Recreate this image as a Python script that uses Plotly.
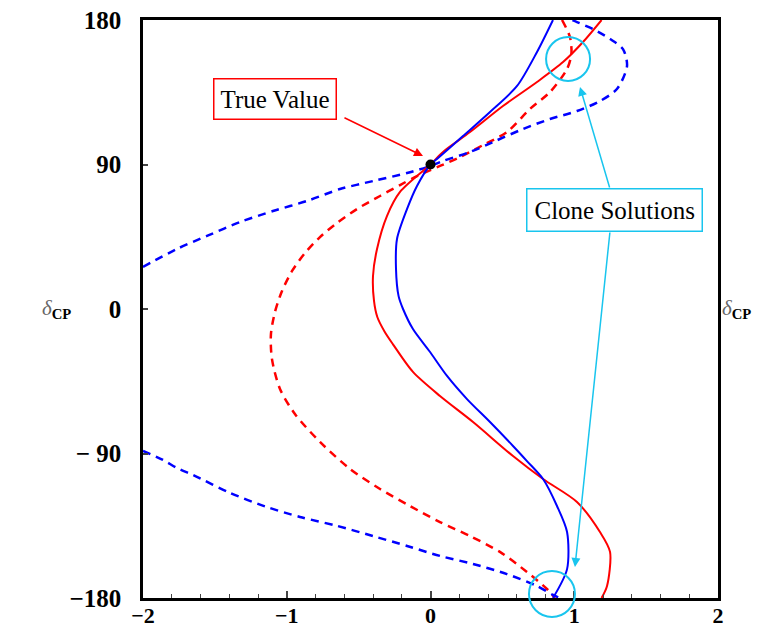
import plotly.graph_objects as go

# ---------------- data (x, delta_CP in degrees) ----------------
blue_solid_x = [0.852, 0.741, 0.602, 0.414, 0.226, 0.045, 0.0, -0.094, -0.163, -0.233, -0.240, -0.222,
                -0.191, -0.122, -0.003, 0.115, 0.254, 0.414, 0.574, 0.671, 0.783, 0.880, 0.950, 0.950, 0.852]
blue_solid_y = [180, 160.1, 138.9, 122.7, 107.7, 93.4, 90, 76.6, 62.3, 43.6, 25.0, 8.0,
                0, -12.5, -26.8, -41.7, -56.1, -70.4, -85.3, -94.7, -105.9, -122.7, -138.9, -162.0, -180]

red_solid_x = [1.19, 1.061, 0.922, 0.741, 0.504, 0.275, 0.087, 0.0, -0.212, -0.303, -0.372, -0.400,
               -0.393, -0.370, -0.320, -0.261, -0.122, 0.066, 0.296, 0.574, 0.783, 1.019, 1.179, 1.249,
               1.228, 1.19]
red_solid_y = [180, 166.3, 153.8, 141.4, 126.4, 110.2, 97.8, 90, 72.9, 57.9, 37.4, 20.6,
               5.0, -5.0, -14.0, -22.0, -39.2, -54.2, -70.4, -91.6, -105.9, -120.2, -138.9, -151.3,
               -172.5, -180]

red_dash_x = [0.915, 0.970, 0.980, 0.950, 0.831, 0.692, 0.532, 0.365, 0.205, 0.066, -0.094, -0.212, -0.351,
              -0.511, -0.650, -0.769, -0.873, -0.963, -1.033, -1.082, -1.110, -1.103, -1.047, -0.943,
              -0.769, -0.560, -0.351, -0.143, 0.066, 0.275, 0.483, 0.671, 0.810, 0.866]
red_dash_y = [180, 169.4, 158.8, 149.5, 135.1, 124.6, 110.2, 102.1, 94.6, 89.1, 82.8, 77.2, 70.4,
              62.3, 53.6, 44.8, 34.9, 23.7, 11.2, -1.9, -15.6, -31.1, -49.8, -65.4,
              -82.8, -99.6, -112.1, -122.7, -132.7, -141.4, -151.3, -163.8, -174.4, -180]

blue_dash_up_x = [-2.0, -1.764, -1.555, -1.325, -1.096, -0.859, -0.630, -0.400, -0.163, 0.0, 0.087, 0.275,
                  0.435, 0.643, 0.831, 1.019, 1.179, 1.297, 1.367, 1.339, 1.249, 1.130, 1.019, 0.984]
blue_dash_up_y = [26.2, 37.4, 45.5, 54.2, 61.0, 67.3, 74.7, 79.7, 84.7, 89.1, 92.2, 97.8,
                  104.0, 112.1, 118.3, 123.3, 129.5, 137.0, 151.3, 161.9, 168.2, 174.4, 178.7, 180]

blue_dash_lo_x = [-2.0, -1.861, -1.764, -1.652, -1.395, -1.150, -0.908, -0.650, -0.400, -0.163, 0.066,
                  0.296, 0.532, 0.741, 0.852, 0.900]
blue_dash_lo_y = [-88.4, -94.0, -99.0, -103.4, -114.5, -123.0, -129.5, -135.1, -141.4, -147.6, -153.8,
                  -158.8, -165.1, -172.5, -178.1, -180]

true_value = (0.0, 90.0)

x_tickvals = [-2, -1, 0, 1, 2]
x_ticktext = ["\u22122", "\u22121", "0", "1", "2"]
y_tickvals = [-180, -90, 0, 90, 180]
y_ticktext = ["\u2212180", "\u2212 90", "0", "90", "180"]

# clone circles: centre (x, y) and radii (rx, ry) in data units
clone_circles = [((0.957, 155.7), (0.153, 13.7)), ((0.845, -177.5), (0.160, 14.3))]

XR = [-2, 2]
YR = [-180, 180]

BLUE = "#0000FF"
RED = "#FF0000"
CYAN = "#19C5EE"
SERIF = "Liberation Serif"

fig = go.Figure()

fig.add_trace(go.Scatter(x=red_dash_x, y=red_dash_y, mode="lines",
                         line=dict(color=RED, width=2.5, dash="8px,6px", shape="spline", smoothing=0.8)))
fig.add_trace(go.Scatter(x=blue_dash_up_x, y=blue_dash_up_y, mode="lines",
                         line=dict(color=BLUE, width=2.5, dash="8px,6px", shape="spline", smoothing=0.8)))
fig.add_trace(go.Scatter(x=blue_dash_lo_x, y=blue_dash_lo_y, mode="lines",
                         line=dict(color=BLUE, width=2.5, dash="8px,6px", shape="spline", smoothing=0.8)))
fig.add_trace(go.Scatter(x=red_solid_x, y=red_solid_y, mode="lines",
                         line=dict(color=RED, width=2, shape="spline", smoothing=0.8)))
fig.add_trace(go.Scatter(x=blue_solid_x, y=blue_solid_y, mode="lines",
                         line=dict(color=BLUE, width=2, shape="spline", smoothing=0.8)))
fig.add_trace(go.Scatter(x=[true_value[0]], y=[true_value[1]], mode="markers",
                         marker=dict(color="black", size=10)))


def fx(v):
    return (v - XR[0]) / (XR[1] - XR[0])


def fy(v):
    return (v - YR[0]) / (YR[1] - YR[0])


for (cx, cy), (rx, ry) in clone_circles:
    fig.add_shape(type="circle", xref="x domain", yref="y domain",
                  x0=fx(cx - rx), x1=fx(cx + rx), y0=fy(cy - ry), y1=fy(cy + ry),
                  line=dict(color=CYAN, width=2))

ann = []
# True value box and arrow
ann.append(dict(x=-1.082, y=130.8, xref="x", yref="y", text="True Value", showarrow=False,
                font=dict(family=SERIF, size=25, color="black"), bordercolor=RED, borderwidth=1.5,
                borderpad=6, bgcolor="white"))
ann.append(dict(x=-0.052, y=95.3, ax=-0.609, ay=119.6, xref="x", yref="y", axref="x", ayref="y",
                text="", showarrow=True, arrowhead=2, arrowsize=1.2, arrowwidth=1.5, arrowcolor=RED))
# Clone solutions box and arrows
ann.append(dict(x=1.040, y=138.3, ax=1.249, ay=74.7, xref="x", yref="y", axref="x", ayref="y",
                text="", showarrow=True, arrowhead=2, arrowsize=1.2, arrowwidth=1.5, arrowcolor=CYAN))
ann.append(dict(x=1.005, y=-160.7, ax=1.249, ay=48.6, xref="x", yref="y", axref="x", ayref="y",
                text="", showarrow=True, arrowhead=2, arrowsize=1.2, arrowwidth=1.5, arrowcolor=CYAN))
ann.append(dict(x=1.283, y=61.7, xref="x", yref="y", text="Clone Solutions", showarrow=False,
                font=dict(family=SERIF, size=25, color="black"), bordercolor=CYAN, borderwidth=1.5,
                borderpad=7, bgcolor="white"))
# axis labels
for xp in (-0.179, 1.061):
    ann.append(dict(x=xp, y=0, xref="paper", yref="y", showarrow=False,
                    text="<span style='color:#666'><i>\u03b4</i></span><sub><b>CP</b></sub>",
                    font=dict(family=SERIF, size=21, color="black")))

fig.update_layout(
    width=784, height=627,
    margin=dict(l=143, r=66, t=20, b=29, autoexpand=False),
    paper_bgcolor="white", plot_bgcolor="white",
    showlegend=False,
    annotations=ann,
    xaxis=dict(range=XR, tickvals=x_tickvals, ticktext=x_ticktext, ticks="inside", ticklen=7,
               tickwidth=1.5, showgrid=False, zeroline=False, showline=True, mirror=True,
               linecolor="black", linewidth=2.5, automargin=False, ticklabelstandoff=-4,
               tickfont=dict(family=SERIF, size=22, color="black", weight="bold"),
               minor=dict(dtick=0.2, ticks="inside", ticklen=4, tickwidth=1.2, showgrid=False)),
    yaxis=dict(range=YR, tickvals=y_tickvals, ticktext=y_ticktext, ticks="inside", ticklen=5,
               tickwidth=1.5, showgrid=False, zeroline=False, showline=True, mirror=True,
               linecolor="black", linewidth=2.5, ticklabelstandoff=14, automargin=False,
               tickfont=dict(family=SERIF, size=25, color="black", weight="bold")),
)

fig.write_html("out.html")
